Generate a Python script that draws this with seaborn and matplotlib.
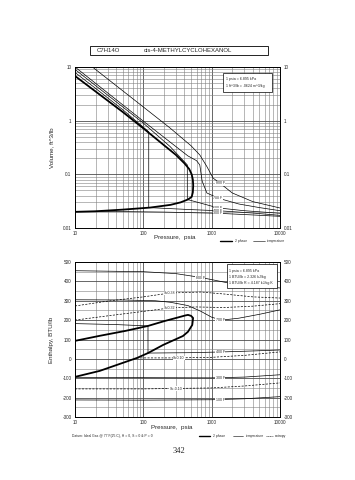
import numpy as np
import pandas as pd
import matplotlib
matplotlib.use("Agg")
import matplotlib.pyplot as plt
import seaborn as sns
from matplotlib.ticker import FixedLocator, FixedFormatter, NullFormatter, LogLocator, MultipleLocator
from matplotlib.patches import Rectangle
from matplotlib.lines import Line2D

sns.set_style("white")
plt.rcParams['font.family'] = ['Liberation Sans', 'DejaVu Sans']

TITLE_FORMULA = "C7H14O"
TITLE_NAME = "cis-4-METHYLCYCLOHEXANOL"

# ---------------- Volume chart data (P psia, V ft^3/lb) ----------------
sat_v_P = [10, 20, 50, 100, 200, 300, 400, 470, 510, 530, 537, 530, 510, 450, 350, 250, 125, 50, 20, 10]
sat_v_V = [6.8, 3.5, 1.45, 0.72, 0.35, 0.23, 0.16, 0.125, 0.1, 0.08, 0.062, 0.046, 0.038, 0.034, 0.030, 0.027, 0.024, 0.022, 0.0205, 0.020]

isoV_800_P = [18, 50, 100, 246, 500, 670, 850, 1050, 1330, 2000, 4000, 10000]
isoV_800_V = [10, 3.6, 1.8, 0.73, 0.34, 0.23, 0.14, 0.085, 0.068, 0.045, 0.031, 0.0236]
isoV_700_P = [10, 30, 100, 246, 450, 600, 670, 725, 850, 1240, 2500, 5000, 10000]
isoV_700_V = [10, 3.3, 0.98, 0.40, 0.22, 0.18, 0.15, 0.075, 0.045, 0.036, 0.028, 0.024, 0.021]
isoV_600_P = [10, 30, 100, 246, 440, 440, 1240, 3000, 10000]
isoV_600_V = [9.0, 3.0, 0.9, 0.33, 0.15, 0.034, 0.0237, 0.021, 0.0188]
isoV_400_P = [10, 20, 50, 120, 120, 500, 1240, 4000, 10000]
isoV_400_V = [7.9, 4.0, 1.6, 0.62, 0.024, 0.022, 0.021, 0.019, 0.0172]
isoV_300_P = [20, 200, 1240, 4000, 10000]
isoV_300_V = [0.0205, 0.0198, 0.0188, 0.0175, 0.0165]

# ---------------- Enthalpy chart data (P psia, H BTU/lb) ----------------
sat_h_P = [10, 23, 54, 117, 208, 323, 410, 450, 500, 535, 520, 450, 380, 272, 195, 117, 81, 23, 10]
sat_h_H = [93, 119, 144, 170, 196, 214, 224, 227, 222, 211, 175, 140, 118, 95, 72, 30, 5, -62, -93]

isoH_800_P = [10, 100, 300, 700, 1740, 4000, 10000]
isoH_800_H = [455, 450, 440, 420, 392, 378, 366]
isoH_700_P = [10, 50, 150, 250, 450, 700, 1000, 1400, 2500, 5000, 10000]
isoH_700_H = [305, 304, 300, 292, 275, 245, 215, 200, 210, 230, 253]
isoH_400_P = [10, 40, 117, 117, 500, 1500, 5000, 10000]
isoH_400_H = [182, 177, 170, 30, 32, 36, 42, 46]
isoH_300_P = [10, 100, 1000, 3000, 10000]
isoH_300_H = [-95, -97, -98, -94, -82]
isoH_100_P = [10, 100, 1000, 3000, 10000]
isoH_100_H = [-212, -213, -211, -206, -195]

entH_038_P = [10, 30, 100, 246, 700, 1500, 4000, 10000]
entH_038_H = [273, 298, 320, 340, 345, 335, 320, 314]
entH_032_P = [10, 30, 100, 246, 600, 1500, 4000, 10000]
entH_032_H = [200, 222, 245, 263, 268, 265, 272, 285]
entH_010_P = [81, 300, 1000, 3000, 10000]
entH_010_H = [5, 5, 8, 18, 36]
entH_m010_P = [10, 100, 1000, 3000, 10000]
entH_m010_H = [-155, -155, -150, -140, -124]

x_ticks = [10, 100, 1000, 10000]
x_labels = ["10", "100", "1000", "10000"]
v_ticks = [0.01, 0.1, 1, 10]
v_labels = ["0.01", "0.1", "1", "10"]
h_ticks = [-300, -200, -100, 0, 100, 200, 300, 400, 500]
h_labels = ["-300", "-200", "-100", "0", "100", "200", "300", "400", "500"]

W, H = 355, 480
fig = plt.figure(figsize=(W / 100, H / 100), dpi=100)
ax1 = fig.add_axes([75 / W, 1 - 228 / H, 205 / W, 161 / H])
ax2 = fig.add_axes([75 / W, 1 - 417 / H, 205 / W, 155 / H])

TICK_FS = 3.3


def curve(ax, P, Y, lw=0.5, ls='-', color='black', z=3):
    df = pd.DataFrame({"P": P, "Y": Y})
    sns.lineplot(data=df, x="P", y="Y", ax=ax, sort=False, estimator=None,
                 color=color, lw=lw, linestyle=ls, legend=False, zorder=z)


def tag(ax, x, y, s):
    ax.text(x, y, s, fontsize=2.6, ha='center', va='center', zorder=6,
            bbox=dict(fc='white', ec='none', pad=0.25))


def style(ax):
    ax.set_xscale('log')
    ax.set_xlim(10, 10000)
    ax.xaxis.set_major_locator(FixedLocator(x_ticks))
    ax.xaxis.set_major_formatter(FixedFormatter(x_labels))
    ax.xaxis.set_minor_locator(LogLocator(base=10, subs=np.arange(2, 10)))
    ax.xaxis.set_minor_formatter(NullFormatter())
    ax.grid(True, which='major', color='0.3', lw=0.6)
    ax.grid(True, which='minor', color='0.5', lw=0.4)
    ax.set_axisbelow(True)
    for s in ax.spines.values():
        s.set_color('black')
        s.set_linewidth(0.7)
    ax.tick_params(axis='both', which='both', length=0, labelsize=TICK_FS,
                   labelleft=True, labelright=True, pad=2.5)


# ---------------- Volume chart ----------------
curve(ax1, isoV_800_P, isoV_800_V)
curve(ax1, isoV_700_P, isoV_700_V)
curve(ax1, isoV_600_P, isoV_600_V)
curve(ax1, isoV_400_P, isoV_400_V)
curve(ax1, isoV_300_P, isoV_300_V)
curve(ax1, sat_v_P, sat_v_V, lw=1.3, z=4)

style(ax1)
ax1.set_yscale('log')
ax1.set_ylim(0.01, 10)
ax1.yaxis.set_major_locator(FixedLocator(v_ticks))
ax1.yaxis.set_major_formatter(FixedFormatter(v_labels))
ax1.yaxis.set_minor_locator(LogLocator(base=10, subs=np.arange(2, 10)))
ax1.yaxis.set_minor_formatter(NullFormatter())
ax1.set_xlabel("")
ax1.set_ylabel("")

tag(ax1, isoV_800_P[8], isoV_800_V[8], "800 F")
tag(ax1, isoV_700_P[9], isoV_700_V[9], "700 F")
tag(ax1, isoV_600_P[6], isoV_600_V[6], "600 F")
tag(ax1, isoV_400_P[6], isoV_400_V[6], "400 F")
tag(ax1, isoV_300_P[2], isoV_300_V[2], "300 F")

ax1.add_patch(Rectangle((0.722, 0.845), 0.239, 0.118, transform=ax1.transAxes,
                        fc='white', ec='black', lw=0.5, zorder=7))
ax1.text(0.735, 0.925, "1 psia = 6.895 kPa", transform=ax1.transAxes, fontsize=2.6, va='center', zorder=8)
ax1.text(0.735, 0.880, "1 ft^3/lb = .0624 m^3/kg", transform=ax1.transAxes, fontsize=2.6, va='center', zorder=8)

ax1.text(-0.115, 0.5, "Volume, ft^3/lb", transform=ax1.transAxes, rotation=90,
         fontsize=4.5, ha='center', va='center')
fig.text(175 / W, 1 - 237 / H, "Pressure,  psia", fontsize=4.5, ha='center', va='center')

# ---------------- Enthalpy chart ----------------
curve(ax2, isoH_800_P, isoH_800_H)
curve(ax2, isoH_700_P, isoH_700_H)
curve(ax2, isoH_400_P, isoH_400_H)
curve(ax2, isoH_300_P, isoH_300_H)
curve(ax2, isoH_100_P, isoH_100_H)
curve(ax2, entH_038_P, entH_038_H, ls=(0, (3, 2)))
curve(ax2, entH_032_P, entH_032_H, ls=(0, (3, 2)))
curve(ax2, entH_010_P, entH_010_H, ls=(0, (3, 2)))
curve(ax2, entH_m010_P, entH_m010_H, ls=(0, (3, 2)))
curve(ax2, sat_h_P, sat_h_H, lw=1.3, z=4)

style(ax2)
ax2.set_ylim(-300, 500)
ax2.yaxis.set_major_locator(FixedLocator(h_ticks))
ax2.yaxis.set_major_formatter(FixedFormatter(h_labels))
ax2.yaxis.set_minor_locator(MultipleLocator(50))
ax2.yaxis.set_minor_formatter(NullFormatter())
ax2.set_xlabel("")
ax2.set_ylabel("")

tag(ax2, 680, 418, "800 F")
tag(ax2, 1330, 203, "700 F")
tag(ax2, 1330, 35, "400 F")
tag(ax2, 1330, -98, "300 F")
tag(ax2, 1330, -211, "100 F")
tag(ax2, 246, 340, "S=0.38")
tag(ax2, 246, 263, "S=0.32")
tag(ax2, 330, 5, "S=0.10")
tag(ax2, 300, -154, "S=-0.10")

ax2.add_patch(Rectangle((0.741, 0.832), 0.245, 0.155, transform=ax2.transAxes,
                        fc='white', ec='black', lw=0.5, zorder=7))
ax2.text(0.752, 0.945, "1 psia = 6.895 kPa", transform=ax2.transAxes, fontsize=2.6, va='center', zorder=8)
ax2.text(0.752, 0.905, "1 BTU/lb = 2.326 kJ/kg", transform=ax2.transAxes, fontsize=2.6, va='center', zorder=8)
ax2.text(0.752, 0.865, "1 BTU/lb R = 4.187 kJ/kg K", transform=ax2.transAxes, fontsize=2.6, va='center', zorder=8)

ax2.text(-0.115, 0.5, "Enthalpy, BTU/lb", transform=ax2.transAxes, rotation=90,
         fontsize=4.5, ha='center', va='center')
fig.text(172 / W, 1 - 428 / H, "Pressure,  psia", fontsize=4.5, ha='center', va='center')

# ---------------- Title box ----------------
fig.patches.append(Rectangle((90 / W, 1 - 55 / H), 178 / W, 9 / H, transform=fig.transFigure,
                             fc='white', ec='black', lw=0.6))
fig.text(97 / W, 1 - 50.5 / H, TITLE_FORMULA, fontsize=4.3, ha='left', va='center')
fig.text(188 / W, 1 - 50.5 / H, TITLE_NAME, fontsize=4.3, ha='center', va='center')

# ---------------- Legends under charts ----------------
fig.add_artist(Line2D([220 / W, 232 / W], [1 - 241 / H] * 2, color='black', lw=1.0))
fig.text(235 / W, 1 - 241 / H, "2 phase", fontsize=2.4, va='center')
fig.add_artist(Line2D([253 / W, 265 / W], [1 - 241 / H] * 2, color='black', lw=0.4))
fig.text(267 / W, 1 - 241 / H, "temperature", fontsize=2.4, va='center')

fig.text(72 / W, 1 - 436 / H, "Datum: Ideal Gas @ 77 F(25 C), H = 0, S = 0 & P = 0", fontsize=2.4, va='center')
fig.add_artist(Line2D([199 / W, 210 / W], [1 - 436 / H] * 2, color='black', lw=1.0))
fig.text(213 / W, 1 - 436 / H, "2 phase", fontsize=2.4, va='center')
fig.add_artist(Line2D([233 / W, 243 / W], [1 - 436 / H] * 2, color='black', lw=0.4))
fig.text(246 / W, 1 - 436 / H, "temperature", fontsize=2.4, va='center')
fig.add_artist(Line2D([266 / W, 273 / W], [1 - 436 / H] * 2, color='black', lw=0.4, ls=(0, (2, 1))))
fig.text(275 / W, 1 - 436 / H, "entropy", fontsize=2.4, va='center')

fig.text(179 / W, 1 - 451 / H, "342", fontsize=6, ha='center', va='center',
         family=['Liberation Serif', 'DejaVu Serif'])

fig.savefig("out.png", dpi=100, facecolor='white')
